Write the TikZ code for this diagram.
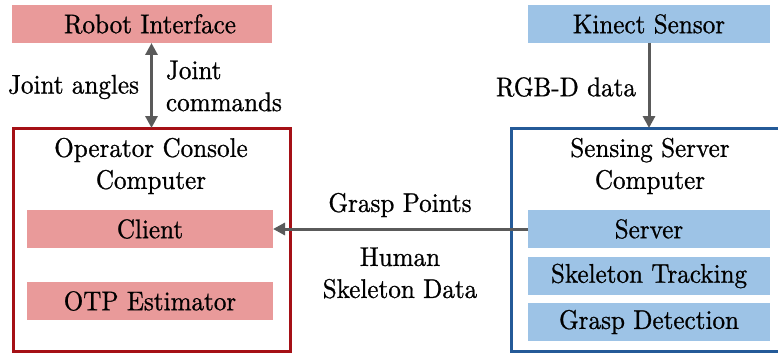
\documentclass[tikz,border=0pt]{standalone}
\usepackage{fontspec}
\setmainfont{lmroman10-regular}[Extension=.otf, FakeBold=0.8, FakeStretch=0.93]
\usetikzlibrary{arrows.meta,calc}
\definecolor{pinkfill}{RGB}{233,154,154}
\definecolor{bluefill}{RGB}{157,195,230}
\definecolor{redline}{RGB}{165,16,22}
\definecolor{blueline}{RGB}{36,90,152}
\definecolor{arrowgray}{RGB}{90,90,90}
\tikzset{
  every node/.style={font=\fontsize{27}{32}\selectfont, inner sep=0pt, outer sep=0pt},
  pinkbox/.style={fill=pinkfill, minimum width=246pt, minimum height=38pt, anchor=north west},
  bluebox/.style={fill=bluefill, minimum width=242pt, minimum height=38pt, anchor=north west},
  machine/.style={draw, line width=3pt, minimum height=223pt, anchor=north west},
  flow/.style={draw=arrowgray, line width=3pt, -{Triangle[width=12pt,length=12pt]}},
  biflow/.style={draw=arrowgray, line width=3pt, {Triangle[width=12pt,length=12pt]}-{Triangle[width=12pt,length=12pt]}},
  label/.style={align=center}
}
\begin{document}
\begin{tikzpicture}[x=1pt, y=-1pt]
\useasboundingbox (0,0) rectangle (778,353);

% operator side
\node[pinkbox, minimum width=260pt] (robot) at (12,5) {\hspace*{16pt}Robot Interface};
\node[machine, draw=redline, minimum width=277pt] (console) at (13,128) {};
\node[label] (consoletitle) at (151,166) {Operator Console\\Computer};
\node[pinkbox] (client) at (27,210) {Client};
\node[pinkbox] (otp) at (27,282) {OTP Estimator};

% sensing side
\node[bluebox] (kinect) at (528,5) {Kinect Sensor};
\node[machine, draw=blueline, minimum width=284pt] (sensing) at (511,128) {};
\node[label] (sensingtitle) at (650,166) {Sensing Server\\Computer};
\node[bluebox] (server) at (528,210) {Server};
\node[bluebox] (tracking) at (528,257) {Skeleton Tracking};
\node[bluebox] (detection) at (528,303) {Grasp Detection};

% connectors
\draw[biflow] (console.north |- robot.south) -- (console.north);
\draw[flow] (kinect.south) -- (kinect.south |- sensing.north);
\draw[flow] (server.west) -- (client.east);

% connector labels
\node[anchor=east] (anglesl) at (139,87) {Joint angles};
\node[anchor=west, align=left] (commandsl) at (166,86) {Joint\\commands};
\node[anchor=east] (rgbdl) at (636,87) {RGB-D data};
\node[label] (graspl) at (400,205) {Grasp Points};
\node[label] (skeletonl) at (400,273) {Human\\Skeleton Data};
\end{tikzpicture}
\end{document}
